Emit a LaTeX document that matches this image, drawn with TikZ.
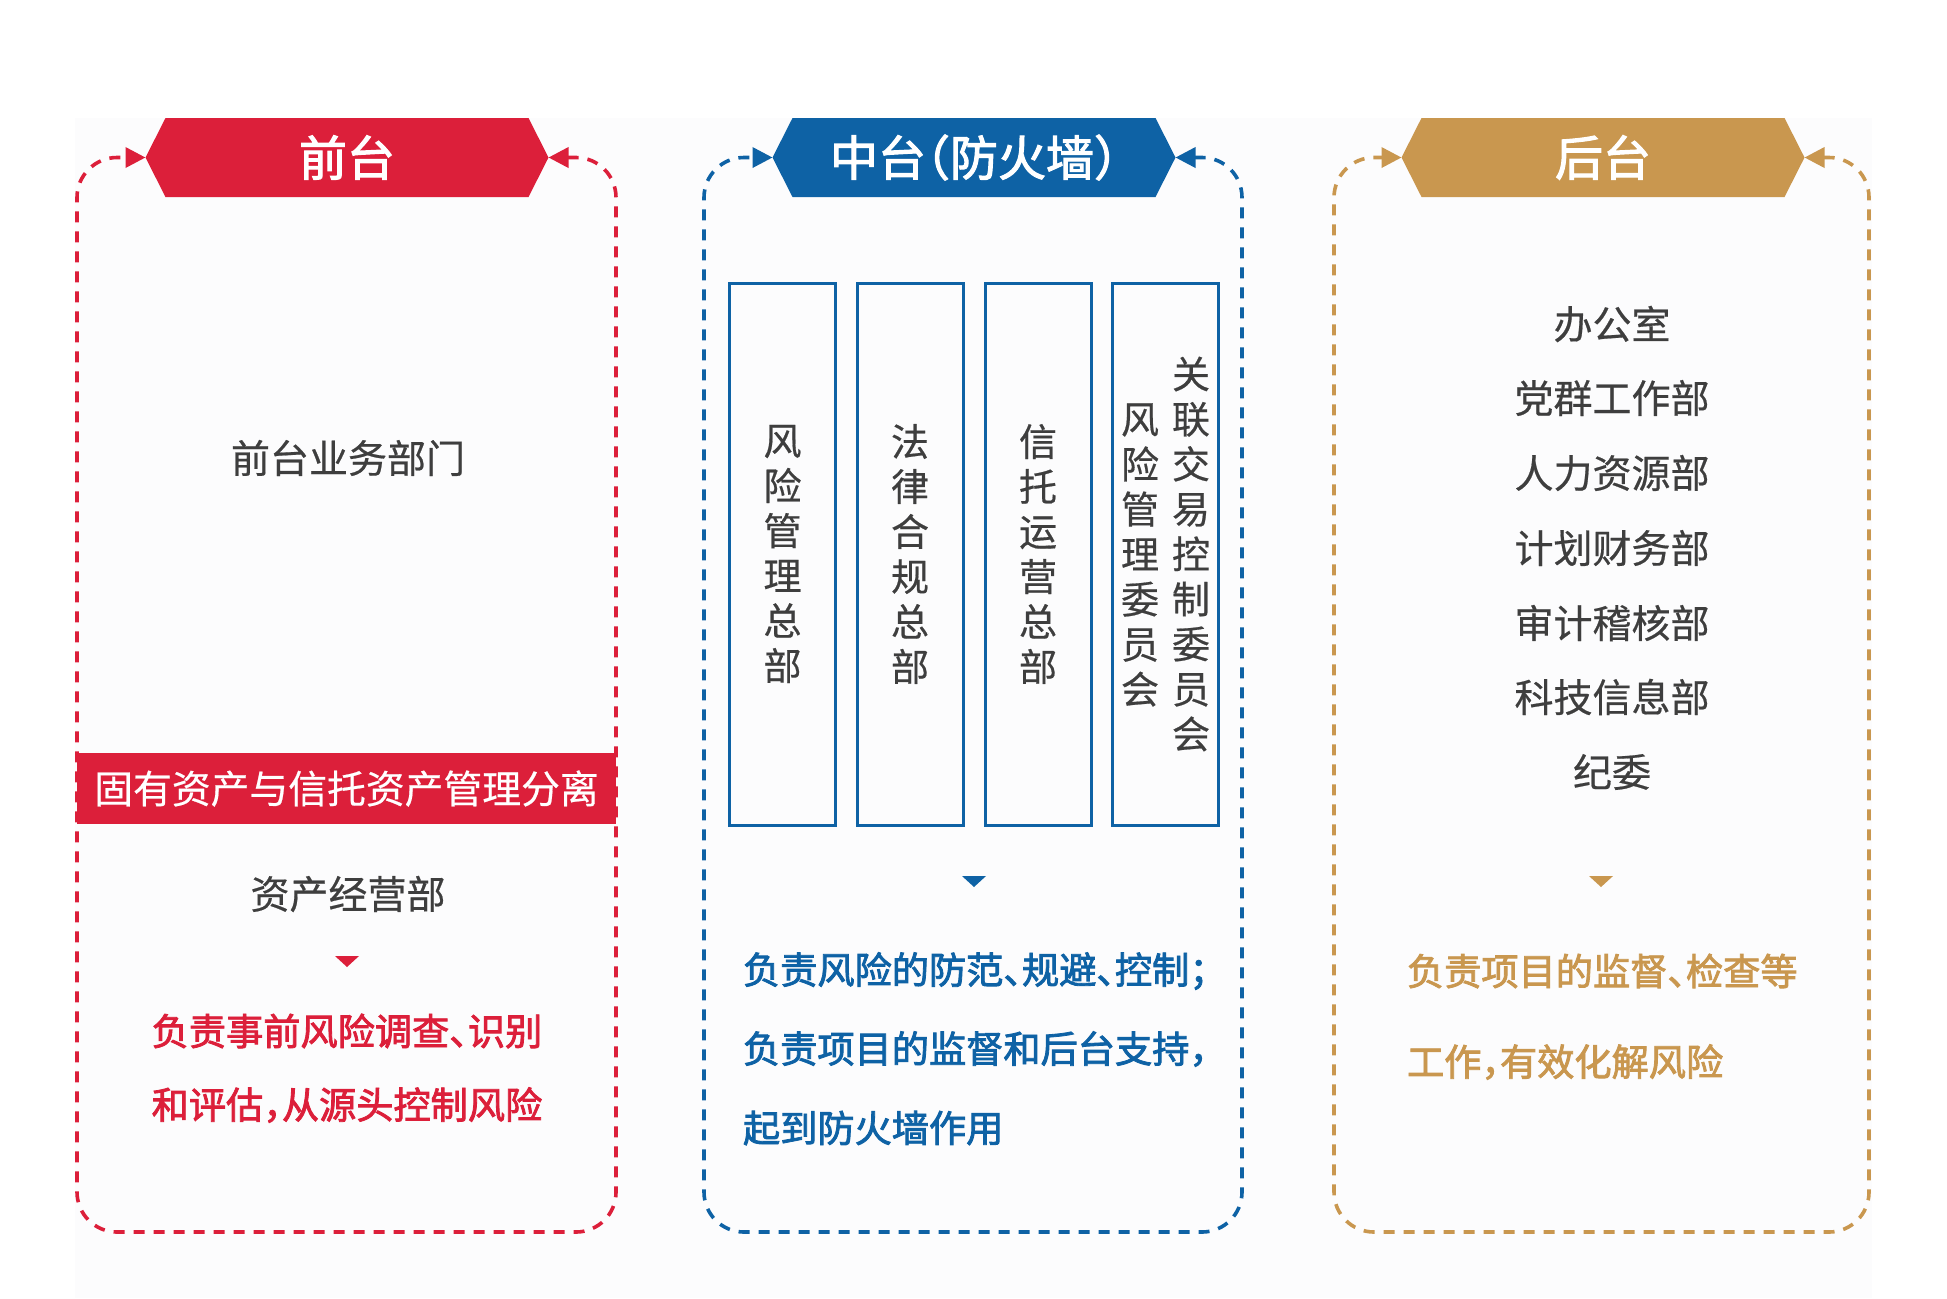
\documentclass[tikz,border=0pt]{standalone}
\usepackage{fontspec}
\setmainfont{Noto Sans CJK SC}[RawFeature=+halt,FakeBold=0.5]
\newfontfamily\medfont{Noto Sans CJK SC}[RawFeature=+halt,FakeBold=2.2]
\usetikzlibrary{arrows.meta}
\definecolor{cred}{RGB}{220,31,58}
\definecolor{cblue}{RGB}{14,98,165}
\definecolor{cgold}{RGB}{201,151,79}
\definecolor{cgray}{RGB}{62,62,62}
\definecolor{cpanel}{RGB}{252,252,253}
\newcommand\hexbar[2]{\fill[#2] ({#1-181.5},118) -- ({#1+181.5},118) -- ({#1+201.5},157.5) -- ({#1+181.5},197) -- ({#1-181.5},197) -- ({#1-201.5},157.5) -- cycle;}
\newcommand\downtri[3]{\fill[#3] ({#1-12},#2) -- ({#1+12},#2) -- (#1,{#2+11}) -- cycle;}
\begin{document}
\begin{tikzpicture}[x=0.5pt,y=-0.5pt,
  every node/.style={inner sep=0pt,outer sep=0pt},
  titletext/.style={text=white,font=\medfont\fontsize{24pt}{28pt}\selectfont,minimum width=181.5pt,minimum height=39.5pt},
  graytext/.style={text=cgray,font=\fontsize{19.5pt}{22pt}\selectfont},
  vcol/.style={text=cgray,align=center,font=\fontsize{19pt}{22.5pt}\selectfont},
  boxcol/.style={draw=cblue,line width=1.5pt,minimum width=53pt,minimum height=271pt},
  dashframe/.style={line width=1.8pt,dash pattern=on 5.5pt off 4.5pt,rounded corners=20pt,
     arrows={Triangle[length=10pt,width=10pt]-Triangle[length=10pt,width=10pt]}},
  desc/.style={font=\medfont\fontsize{18.6pt}{22pt}\selectfont},
  bandtext/.style={fill=cred,text=white,minimum width=269.5pt,minimum height=35.5pt,font=\fontsize{19.4pt}{22pt}\selectfont}
]
\useasboundingbox (0,0) rectangle (1947,1298);
\fill[white] (0,0) rectangle (1947,1298);
\fill[cpanel] (75,118) rectangle (1872,1298);

% ---------- left panel ----------
\hexbar{347}{cred}
\node[titletext] (t1) at (347,157.5) {前台};
\draw[dashframe,cred] ([xshift=10pt]t1.east) -- (616,157.5) -- (616,1232) -- (77,1232) -- (77,157.5) -- ([xshift=-10pt]t1.west);
\node[graytext] (q1) at (348,458) {前台业务部门};
\node[bandtext] (sep) at (346.5,788.5) {固有资产与信托资产管理分离};
\node[graytext] (q2) at (348,894) {资产经营部};
\downtri{347}{956}{cred}
\node[desc,text=cred] (r1) at (347,1031) {负责事前风险调查、识别};
\node[desc,text=cred] (r2) at (347,1105) {和评估，从源头控制风险};

% ---------- middle panel ----------
\hexbar{974}{cblue}
\node[titletext] (t2) at (974,157.5) {中台（防火墙）};
\draw[dashframe,cblue] ([xshift=10pt]t2.east) -- (1242,157.5) -- (1242,1232) -- (704,1232) -- (704,157.5) -- ([xshift=-10pt]t2.west);
\node[boxcol,vcol] (b1) at (782.5,554) {风\\险\\管\\理\\总\\部};
\node[boxcol,vcol] (b2) at (910,554) {法\\律\\合\\规\\总\\部};
\node[boxcol,vcol] (b3) at (1038,554) {信\\托\\运\\营\\总\\部};
\node[boxcol] (b4) at (1165.5,554) {};
\node[vcol] (b4r) at (1191,554) {关\\联\\交\\易\\控\\制\\委\\员\\会};
\node[vcol] (b4l) at (1140,555) {风\\险\\管\\理\\委\\员\\会};
\downtri{974}{876}{cblue}
\node[desc,text=cblue,anchor=west] (m1) at (743,971) {负责风险的防范、规避、控制；};
\node[desc,text=cblue,anchor=west] (m2) at (743,1049) {负责项目的监督和后台支持，};
\node[desc,text=cblue,anchor=west] (m3) at (743,1128) {起到防火墙作用};

% ---------- right panel ----------
\hexbar{1603}{cgold}
\node[titletext] (t3) at (1603,157.5) {后台};
\draw[dashframe,cgold] ([xshift=10pt]t3.east) -- (1869,157.5) -- (1869,1232) -- (1334,1232) -- (1334,157.5) -- ([xshift=-10pt]t3.west);
\node[graytext] (o1) at (1612,324) {办公室};
\node[graytext] (o2) at (1612,398) {党群工作部};
\node[graytext] (o3) at (1612,473) {人力资源部};
\node[graytext] (o4) at (1612,548) {计划财务部};
\node[graytext] (o5) at (1612,623) {审计稽核部};
\node[graytext] (o6) at (1612,697) {科技信息部};
\node[graytext] (o7) at (1612,772) {纪委};
\downtri{1601}{876}{cgold}
\node[desc,text=cgold,anchor=west] (g1) at (1407,971) {负责项目的监督、检查等};
\node[desc,text=cgold,anchor=west] (g2) at (1407,1062) {工作，有效化解风险};
\end{tikzpicture}
\end{document}
